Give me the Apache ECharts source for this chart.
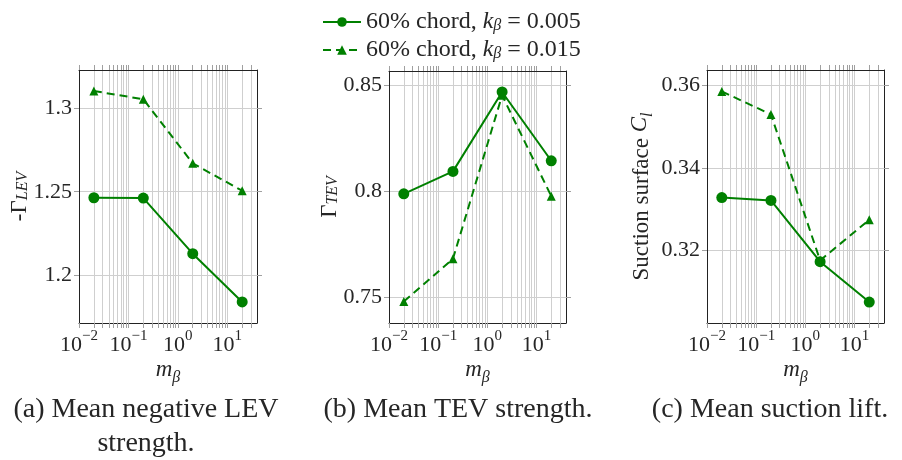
<!DOCTYPE html>
<html><head><meta charset="utf-8">
<script src="https://cdn.jsdelivr.net/npm/echarts@6/dist/echarts.min.js"></script>
<style>html,body{margin:0;padding:0;background:#fff}#c{width:902px;height:460px}</style>
</head><body><div id="c"></div>
<script>
// ---- data ----
const mBeta = [0.02, 0.2, 2, 20];
const levK005 = [1.2464, 1.2462, 1.2129, 1.1840];
const levK015 = [1.3103, 1.3054, 1.2670, 1.2506];
const tevK005 = [0.7989, 0.8095, 0.8470, 0.8145];
const tevK015 = [0.7480, 0.7682, 0.8454, 0.7978];
const clK005 = [0.3328, 0.3321, 0.3172, 0.3074];
const clK015 = [0.3586, 0.3530, 0.3175, 0.3274];
const xLabelTicks = [0.01, 0.1, 1, 10];
const xAllTicks = [0.01,0.02,0.03,0.04,0.05,0.06,0.07,0.08,0.09,
                   0.1,0.2,0.3,0.4,0.5,0.6,0.7,0.8,0.9,
                   1,2,3,4,5,6,7,8,9,10,20,30];
const yTicksA = [1.2, 1.25, 1.3];
const yTicksB = [0.75, 0.8, 0.85];
const yTicksC = [0.32, 0.34, 0.36];
const seriesKeys = ['k005', 'k015'];
const legendLabels = {k005: '60% chord, {it|k}{sub|β} = 0.005', k015: '60% chord, {it|k}{sub|β} = 0.015'};
const yNames = ['-Γ{sub|LEV}', 'Γ{sub|TEV}', 'Suction surface {it|C}{sub|l}'];
const xName = '{it|m}{sub|β}';
const captions = ['(a) Mean negative LEV\nstrength.', '(b) Mean TEV strength.', '(c) Mean suction lift.'];

// ---- style ----
const FONT = 'Liberation Serif';
const GREEN = '#008000';
const TXT = '#262626';
const GRIDC = '#cfcfcf';
const TICKC = '#a0a0a0';
const xRange = [0.01, 39.9];
const yRanges = [[1.1714, 1.3229], [0.7379, 0.8569], [0.3023, 0.3638]];
const yTicks = [yTicksA, yTicksB, yTicksC];
const panels = [
  {left: 79, top: 70, width: 178, height: 253, nameGap: 48},
  {left: 389, top: 71, width: 177, height: 252, nameGap: 48},
  {left: 707, top: 70, width: 177, height: 253, nameGap: 51}
];
const data = [[levK005, levK015], [tevK005, tevK015], [clK005, clK015]];

const richMain = {
  it: {fontFamily: FONT, fontStyle: 'italic', fontSize: 23, color: TXT, lineHeight: 28, verticalAlign: 'top'},
  sub: {fontFamily: FONT, fontStyle: 'italic', fontSize: 16, color: TXT, lineHeight: 16, verticalAlign: 'bottom'},
  n: {fontFamily: FONT, fontSize: 23, color: TXT, lineHeight: 28, verticalAlign: 'top'}
};
const supRich = {
  b: {fontFamily: FONT, fontSize: 22, color: TXT, lineHeight: 27, verticalAlign: 'bottom'},
  s: {fontFamily: FONT, fontSize: 15, color: TXT, lineHeight: 15, verticalAlign: 'top'}
};

const grid = [], xAxis = [], yAxis = [], series = [];
panels.forEach((p, i) => {
  grid.push({left: p.left, top: p.top, width: p.width, height: p.height, containLabel: false});
  const xBase = {
    gridIndex: i, type: 'log', logBase: 10, min: xRange[0], max: xRange[1],
    axisLine: {show: true, onZero: false, lineStyle: {color: '#222', width: 1}},
    axisTick: {show: true, inside: false, length: 5, customValues: xAllTicks, lineStyle: {color: TICKC}},
  };
  xAxis.push(Object.assign({}, xBase, {
    position: 'bottom',
    axisLabel: {
      show: true, customValues: xLabelTicks, margin: 6,
      formatter: v => '{b|10}{s|' + (Math.round(Math.log10(v)) < 0 ? '−' : '') + Math.abs(Math.round(Math.log10(v))) + '}',
      rich: supRich
    },
    splitLine: {show: true, lineStyle: {color: GRIDC, width: 1}},
    name: xName, nameLocation: 'middle', nameGap: 35, nameMoveOverlap: false,
    nameTextStyle: {fontFamily: FONT, fontSize: 23, color: TXT, rich: richMain}
  }));
  xAxis.push(Object.assign({}, xBase, {
    position: 'top', axisLabel: {show: false}, splitLine: {show: false}
  }));
  const yBase = {
    gridIndex: i, type: 'value', min: yRanges[i][0], max: yRanges[i][1],
    axisLine: {show: true, onZero: false, lineStyle: {color: '#222', width: 1}},
    axisTick: {show: true, inside: false, length: 5, customValues: yTicks[i], lineStyle: {color: TICKC}},
  };
  yAxis.push(Object.assign({}, yBase, {
    position: 'left',
    axisLabel: {show: true, customValues: yTicks[i], margin: 7, fontFamily: FONT, fontSize: 22, color: TXT,
      formatter: v => String(+v.toFixed(4))},
    splitLine: {show: true, lineStyle: {color: GRIDC, width: 1}},
    name: yNames[i], nameLocation: 'middle', nameGap: p.nameGap, nameRotate: 90, nameMoveOverlap: false,
    nameTextStyle: {fontFamily: FONT, fontSize: 23, color: TXT, rich: richMain}
  }));
  yAxis.push(Object.assign({}, yBase, {
    position: 'right', axisLabel: {show: false}, splitLine: {show: false}
  }));
  data[i].forEach((vals, k) => {
    series.push({
      name: seriesKeys[k], type: 'line', xAxisIndex: 2 * i, yAxisIndex: 2 * i,
      data: mBeta.map((x, j) => [x, vals[j]]),
      symbol: k === 0 ? 'circle' : 'triangle', symbolSize: k === 0 ? 11 : 9,
      itemStyle: {color: GREEN},
      lineStyle: {color: GREEN, width: 2, type: k === 0 ? 'solid' : [8, 5]},
      z: k === 0 ? 3 : 2, animation: false
    });
  });
});

const captionPos = [[146, 393], [458, 393], [770, 393]];
const graphic = captions.map((t, i) => ({
  type: 'text', x: captionPos[i][0], y: captionPos[i][1],
  style: {text: t, font: '28px "' + FONT + '"', fill: TXT, align: 'center', verticalAlign: 'top', lineHeight: 34}
}));

const chart = echarts.init(document.getElementById('c'), null, {renderer: 'canvas'});
chart.setOption({
  animation: false,
  backgroundColor: '#fff',
  grid, xAxis, yAxis, series, graphic,
  legend: {
    data: seriesKeys, orient: 'vertical', left: 317, top: 5, itemWidth: 38, itemHeight: 12, itemGap: 4,
    formatter: n => legendLabels[n],
    textStyle: {fontFamily: FONT, fontSize: 24, color: TXT, lineHeight: 24,
      rich: {
        it: {fontFamily: FONT, fontStyle: 'italic', fontSize: 24, color: TXT, lineHeight: 24, verticalAlign: 'top'},
        sub: {fontFamily: FONT, fontStyle: 'italic', fontSize: 16, color: TXT, lineHeight: 12, verticalAlign: 'bottom'}
      }}
  }
});
</script></body></html>
